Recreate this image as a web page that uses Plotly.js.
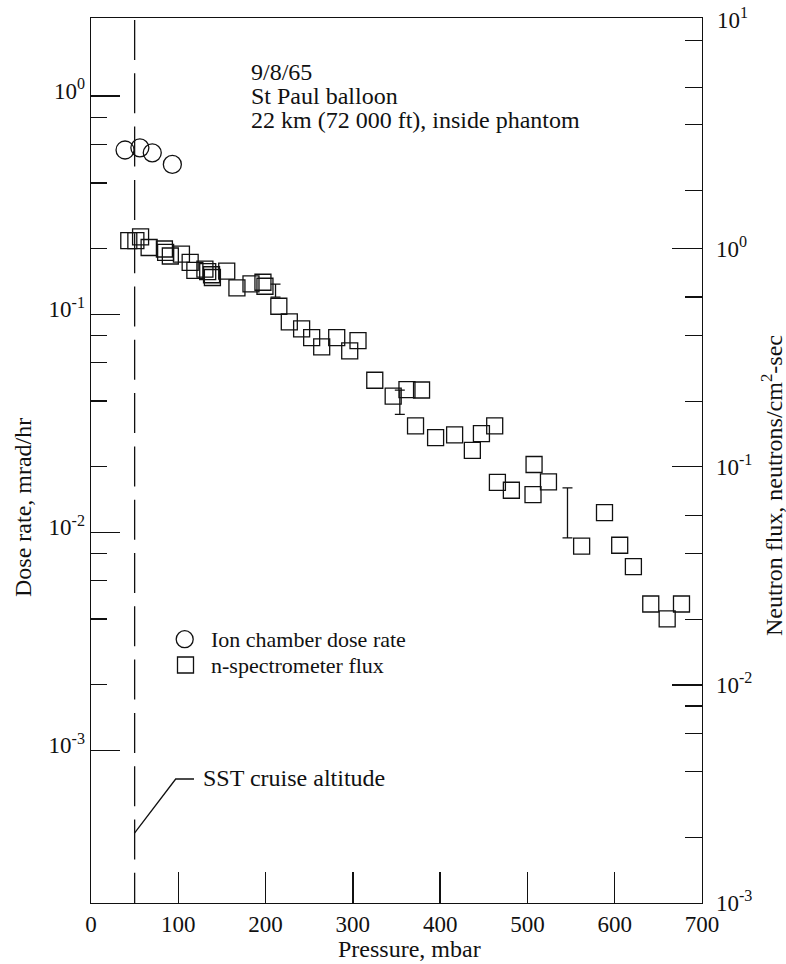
<!DOCTYPE html>
<html>
<head>
<meta charset="utf-8">
<script src="https://cdn.plot.ly/plotly-3.0.1.min.js"></script>
<style>
  html, body { margin: 0; padding: 0; background: #fff; }
  #chart { width: 786px; height: 964px; }
</style>
</head>
<body>
<div id="chart"></div>
<script>
// Ion chamber dose rate (mrad/hr) against pressure (mbar)
const ionPressure = [39.0, 56.0, 70.2, 93.2];
const ionDoseRate = [0.566, 0.579, 0.549, 0.486];

// n-spectrometer neutron flux (neutrons/cm^2-sec) against pressure (mbar)
const nPressure = [43.3, 51.4, 56.8, 66.6, 84.1, 85.5, 90.9, 103.6, 113.6, 119.0,
                   130.5, 133.7, 138.1, 139.1, 155.5, 167.2, 183.3, 197.0, 199.3, 215.2,
                   227.2, 241.3, 252.8, 264.3, 281.5, 296.4, 305.9, 325.1, 346.2, 362.0,
                   378.7, 371.8, 394.8, 416.6, 436.9, 447.3, 462.5, 465.6, 481.6, 507.6,
                   506.4, 524.1, 562.1, 588.3, 605.7, 621.4, 641.3, 660.1, 676.5];
const nFlux = [1.09, 1.09, 1.133, 1.013, 0.997, 0.962, 0.926, 0.944, 0.865, 0.796,
               0.806, 0.786, 0.760, 0.738, 0.789, 0.661, 0.690, 0.702, 0.673, 0.545,
               0.462, 0.429, 0.391, 0.355, 0.391, 0.340, 0.379, 0.2495, 0.211, 0.226,
               0.225, 0.154, 0.136, 0.140, 0.119, 0.142, 0.154, 0.0848, 0.0781, 0.1025,
               0.0746, 0.0853, 0.0433, 0.0617, 0.0437, 0.0349, 0.0235, 0.0201, 0.0235];

// Flux uncertainty bars: pressure, lower and upper flux
const barPressure = [211.4, 353.8, 545.9];
const barLow  = [0.600, 0.174, 0.0472];
const barHigh = [0.688, 0.2246, 0.080];

// SST cruise altitude, pressure (mbar)
const sstPressure = 50;

// Axis ticks
const xTicks = [0, 100, 200, 300, 400, 500, 600, 700];
const doseTicks = [0.001, 0.01, 0.1, 1];
const doseTickText = ['10<sup>-3</sup>', '10<sup>-2</sup>', '10<sup>-1</sup>', '10<sup>0</sup>'];
const doseMinor = [0.8, 0.6, 0.4, 0.2, 0.08, 0.06, 0.04, 0.02, 0.008, 0.006, 0.004, 0.002];
const fluxTicks = [0.001, 0.01, 0.1, 1];
const fluxTickText = ['10<sup>-3</sup>', '10<sup>-2</sup>', '10<sup>-1</sup>', '10<sup>0</sup>'];
const fluxTopLabel = '10<sup>1</sup>';
const fluxMinor = [9, 5.5, 3.7, 1.85, 0.6, 0.4, 0.2, 0.06, 0.04, 0.02, 0.008, 0.006, 0.004, 0.002];

const W = 786, H = 964;
const M = { l: 91, r: 84, t: 18, b: 61 };
const PW = W - M.l - M.r, PH = H - M.t - M.b;
const px = p => (p - M.l) / PW;          // page x pixel -> paper
const py = p => (H - M.b - p) / PH;      // page y pixel -> paper

const FONT = 'Liberation Serif, Times New Roman, serif';
const INK = '#111';

const traces = [
  {
    x: ionPressure, y: ionDoseRate, yaxis: 'y', type: 'scatter', mode: 'markers',
    marker: { symbol: 'circle-open', size: 18, color: INK, line: { width: 1.3, color: INK } },
    hoverinfo: 'x+y'
  },
  {
    x: nPressure, y: nFlux, yaxis: 'y2', type: 'scatter', mode: 'markers',
    marker: { symbol: 'square-open', size: 16, color: INK, line: { width: 1.3, color: INK } },
    hoverinfo: 'x+y'
  },
  {
    x: barPressure, y: barLow, yaxis: 'y2', type: 'scatter', mode: 'markers',
    marker: { size: 1, color: 'rgba(0,0,0,0)' },
    error_y: {
      type: 'data', symmetric: false,
      array: barHigh.map((h, i) => h - barLow[i]),
      arrayminus: barLow.map(() => 0),
      color: INK, thickness: 1.3, width: 5
    },
    hoverinfo: 'skip'
  }
];

const txt = (text, x, y, opts) => Object.assign({
  text, xref: 'paper', yref: 'paper', x: px(x), y: py(y),
  xanchor: 'left', yanchor: 'middle', showarrow: false,
  font: { family: FONT, size: 24, color: INK }
}, opts || {});

const layout = {
  width: W, height: H,
  margin: M,
  paper_bgcolor: '#fff', plot_bgcolor: '#fff',
  showlegend: false,
  font: { family: FONT, color: INK, size: 23 },
  xaxis: {
    range: [0, 700], tickmode: 'array', tickvals: xTicks,
    ticks: 'inside', ticklen: 31, tickwidth: 1.3, tickcolor: INK,
    showline: true, mirror: true, linecolor: INK, linewidth: 1.4,
    showgrid: false, zeroline: false,
    tickfont: { family: FONT, size: 23, color: INK }
  },
  yaxis: {
    type: 'log', range: [-3.70, 0.358],
    tickmode: 'array', tickvals: doseTicks, ticktext: doseTickText,
    ticks: 'inside', ticklen: 29, tickwidth: 1.3, tickcolor: INK,
    minor: { tickmode: 'array', tickvals: doseMinor, ticks: 'inside', ticklen: 16, tickwidth: 1.3, tickcolor: INK, showgrid: false },
    showline: true, linecolor: INK, linewidth: 1.4,
    showgrid: false, zeroline: false,
    ticklabelshift: -5,
    tickfont: { family: FONT, size: 23, color: INK }
  },
  yaxis2: {
    type: 'log', range: [-3, 1.058], overlaying: 'y', side: 'right',
    tickmode: 'array', tickvals: fluxTicks, ticktext: fluxTickText,
    ticks: 'inside', ticklen: 30, tickwidth: 1.3, tickcolor: INK,
    minor: { tickmode: 'array', tickvals: fluxMinor, ticks: 'inside', ticklen: 17, tickwidth: 1.3, tickcolor: INK, showgrid: false },
    showline: true, linecolor: INK, linewidth: 1.4,
    showgrid: false, zeroline: false,
    ticklabelstandoff: 8,
    tickfont: { family: FONT, size: 23, color: INK }
  },
  shapes: [
    // SST cruise altitude marker
    {
      type: 'line', xref: 'x', yref: 'paper',
      x0: sstPressure, x1: sstPressure, y0: py(20), y1: 0,
      line: { color: INK, width: 1.3, dash: '40px,13.3px' }
    },
    // callout leader
    {
      type: 'path', xref: 'paper', yref: 'paper',
      path: `M ${px(134.3)} ${py(833.3)} L ${px(175.7)} ${py(779)} L ${px(194)} ${py(779)}`,
      line: { color: INK, width: 1.3 }
    },
    // key symbols
    {
      type: 'circle', xref: 'paper', yref: 'paper',
      xsizemode: 'pixel', ysizemode: 'pixel',
      xanchor: px(184.7), yanchor: py(639.2),
      x0: -8.5, x1: 8.5, y0: -8.5, y1: 8.5,
      line: { color: INK, width: 1.3 }
    },
    {
      type: 'rect', xref: 'paper', yref: 'paper',
      xsizemode: 'pixel', ysizemode: 'pixel',
      xanchor: px(185.5), yanchor: py(665),
      x0: -8, x1: 8, y0: -8, y1: 8,
      line: { color: INK, width: 1.3 }
    }
  ],
  annotations: [
    txt('9/8/65', 249, 72),
    txt('St Paul balloon', 249, 96),
    txt('22 km (72 000 ft), inside phantom', 249, 120),
    txt('SST cruise altitude', 201, 778),
    txt('Ion chamber dose rate', 209, 639, { font: { family: FONT, size: 22, color: INK } }),
    txt('n-spectrometer flux', 209, 665, { font: { family: FONT, size: 22, color: INK } }),
    txt(fluxTopLabel, 715, 18, { font: { family: FONT, size: 23, color: INK } }),
    txt('Pressure, mbar', 409, 949, { xanchor: 'center' }),
    txt('Dose rate, mrad/hr', 23, 508, { xanchor: 'center', textangle: -90 }),
    txt('Neutron flux, neutrons/cm<sup>2</sup>-sec', 772, 486, { xanchor: 'center', textangle: -90 })
  ]
};

Plotly.newPlot('chart', traces, layout, { displayModeBar: false, staticPlot: true });
</script>
</body>
</html>
